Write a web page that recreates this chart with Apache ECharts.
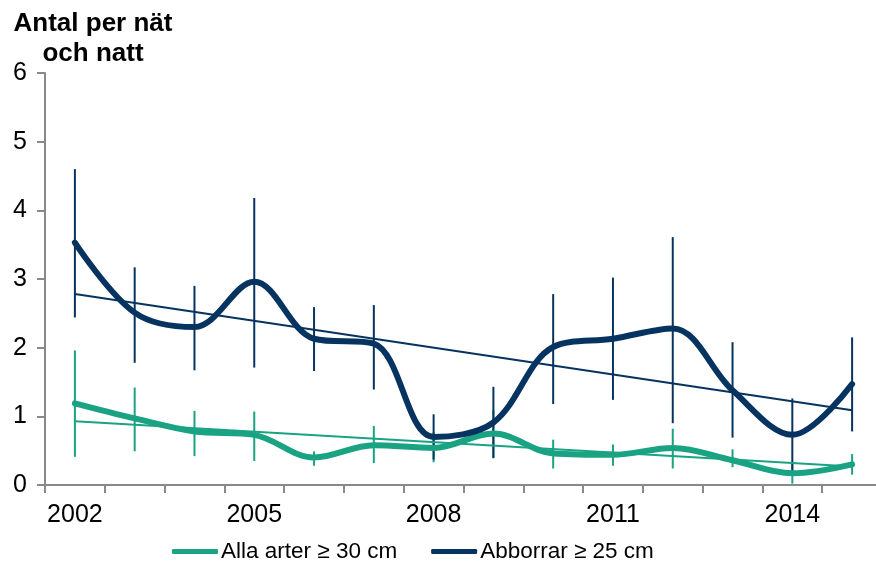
<!DOCTYPE html>
<html>
<head>
<meta charset="utf-8">
<script src="https://cdn.jsdelivr.net/npm/echarts@6/dist/echarts.min.js"></script>
<style>html,body{margin:0;padding:0;background:#fff;overflow:hidden;width:876px;height:561px}#c{width:882px;height:561px}</style>
</head>
<body>
<div id="c"></div>
<script>
var years = ['2002','2003','2004','2005','2006','2007','2008','2009','2010','2011','2012','2013','2014','2015'];
var allaName = 'Alla arter ≥ 30 cm';
var abbName = 'Abborrar ≥ 25 cm';
var alla = [1.19, 0.97, 0.78, 0.73, 0.40, 0.58, 0.54, 0.75, 0.46, 0.44, 0.54, 0.36, 0.17, 0.30];
var allaLow = [0.41, 0.49, 0.42, 0.35, 0.28, 0.32, 0.33, 0.40, 0.24, 0.28, 0.24, 0.26, 0.02, 0.15];
var allaHigh = [1.96, 1.42, 1.08, 1.07, 0.49, 0.86, 0.77, 1.09, 0.66, 0.59, 0.82, 0.52, 0.32, 0.45];
var abb = [3.53, 2.51, 2.30, 2.96, 2.13, 2.06, 0.70, 0.91, 2.01, 2.13, 2.28, 1.38, 0.73, 1.47];
var abbLow = [2.44, 1.78, 1.67, 1.71, 1.66, 1.39, 0.37, 0.39, 1.18, 1.24, 0.90, 0.69, 0.19, 0.78];
var abbHigh = [4.60, 3.17, 2.90, 4.18, 2.59, 2.62, 1.03, 1.43, 2.78, 3.02, 3.61, 2.08, 1.26, 2.15];
var allaTrend = [0.93, 0.27];
var abbTrend = [2.78, 1.09];
var yTicks = [0, 1, 2, 3, 4, 5, 6];

var green = '#1aa383';
var navy = '#06335f';
var FONT = 'Liberation Sans';

function errData(lo, hi) {
  return years.map(function (y, i) { return [i, lo[i], hi[i]]; });
}
function errSeries(lo, hi, color) {
  return {
    type: 'custom',
    data: errData(lo, hi),
    z: 1,
    silent: true,
    renderItem: function (params, api) {
      var a = api.coord([api.value(0), api.value(1)]);
      var b = api.coord([api.value(0), api.value(2)]);
      return {
        type: 'line',
        shape: { x1: a[0], y1: a[1], x2: b[0], y2: b[1] },
        style: { stroke: color, lineWidth: 2 }
      };
    }
  };
}

var chart = echarts.init(document.getElementById('c'), null, { renderer: 'canvas' });
chart.setOption({
  animation: false,
  backgroundColor: '#fff',
  textStyle: { fontFamily: FONT },
  grid: { left: 45, right: 0, top: 73, bottom: 76, containLabel: false },
  graphic: [{
    type: 'text', x: 93, y: 9,
    style: { text: 'Antal per nät\noch natt', textAlign: 'center', fill: '#000',
      font: 'bold 26px "Liberation Sans"', lineHeight: 30 }
  }],
  legend: {
    data: [allaName, abbName],
    top: 535, left: 167,
    icon: 'roundRect', itemWidth: 46, itemHeight: 5, itemGap: 34,
    textStyle: { fontSize: 22.5, color: '#000', fontFamily: FONT, padding: [0, 0, 0, -2] }
  },
  xAxis: {
    type: 'category', data: years, boundaryGap: true,
    axisLine: { lineStyle: { color: '#898989', width: 2 } },
    axisTick: { show: true, interval: 0, length: 8, lineStyle: { color: '#898989', width: 2 } },
    axisLabel: { interval: 2, fontSize: 25, color: '#000', margin: 18, fontFamily: FONT },
    splitLine: { show: false }
  },
  yAxis: {
    type: 'value', min: 0, max: 6, interval: 1,
    axisLine: { show: true, lineStyle: { color: '#898989', width: 2 } },
    axisTick: { show: true, length: 8, lineStyle: { color: '#898989', width: 2 } },
    axisLabel: { fontSize: 25, color: '#000', margin: 18, fontFamily: FONT,
      formatter: function (v) { return yTicks.indexOf(v) >= 0 ? String(v) : ''; } },
    splitLine: { show: false }
  },
  series: [
    errSeries(allaLow, allaHigh, green),
    errSeries(abbLow, abbHigh, navy),
    { type: 'line', name: 'trend1', data: [[years[0], allaTrend[0]], [years[years.length - 1], allaTrend[1]]],
      symbol: 'none', lineStyle: { color: green, width: 2 }, z: 2, silent: true },
    { type: 'line', name: 'trend2', data: [[years[0], abbTrend[0]], [years[years.length - 1], abbTrend[1]]],
      symbol: 'none', lineStyle: { color: navy, width: 2 }, z: 2, silent: true },
    { type: 'line', name: allaName, data: alla, smooth: 0.35, smoothConstraint: false, symbol: 'none',
      itemStyle: { color: green }, lineStyle: { color: green, width: 6, cap: 'round' }, z: 3 },
    { type: 'line', name: abbName, data: abb, smooth: 0.35, smoothConstraint: false, symbol: 'none',
      itemStyle: { color: navy }, lineStyle: { color: navy, width: 6, cap: 'round' }, z: 4 }
  ]
});
</script>
</body>
</html>
